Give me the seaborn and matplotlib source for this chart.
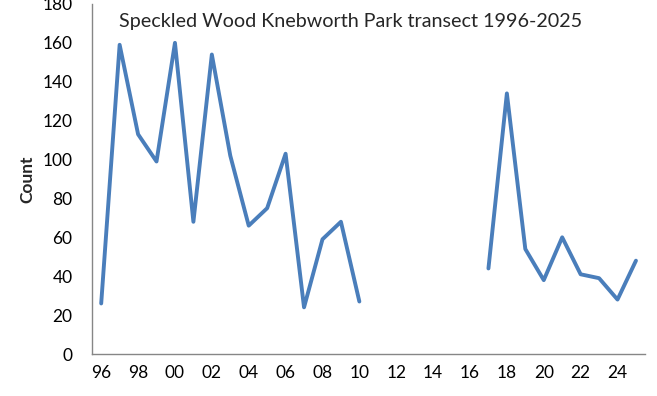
import numpy as np
import pandas as pd
import matplotlib
matplotlib.use("Agg")
import matplotlib.pyplot as plt
import seaborn as sns

# Data (no transect counts 2011-2016)
years = list(range(1996, 2026))
counts = [26, 159, 113, 99, 160, 68, 154, 102, 66, 75, 103, 24, 59, 68, 27,
          np.nan, np.nan, np.nan, np.nan, np.nan, np.nan,
          44, 134, 54, 38, 60, 41, 39, 28, 48]
tick_years = list(range(1996, 2025, 2))
tick_labels = [f"{y % 100:02d}" for y in tick_years]
title = "Speckled Wood Knebworth Park transect 1996-2025"

df = pd.DataFrame({"year": years, "count": counts})
# split into separate segments at the gap so the line breaks
df["segment"] = df["count"].isna().cumsum()
df = df.dropna()

sns.set_style("white")
plt.rcParams["font.family"] = ["Lato", "DejaVu Sans"]

fig = plt.figure(figsize=(6.57, 3.96), dpi=100)
ax = fig.add_axes([0.140, 0.106, 0.842, 0.884])

sns.lineplot(data=df, x="year", y="count", units="segment", estimator=None,
             color="#4A7EBB", linewidth=2.8, ax=ax, legend=False)

ax.set_xlim(1995.5, 2025.5)
ax.set_ylim(0, 180)
ax.set_yticks(range(0, 181, 20))
ax.set_xticks(tick_years)
ax.set_xticklabels(tick_labels)
ax.tick_params(axis="both", length=0, labelsize=12.5, pad=8, colors="black")
ax.tick_params(axis="y", pad=14)

for side in ["top", "right"]:
    ax.spines[side].set_visible(False)
for side in ["left", "bottom"]:
    ax.spines[side].set_color("#868686")
    ax.spines[side].set_linewidth(1.0)

ax.set_xlabel("")
ax.set_ylabel("Count", fontsize=12.5, fontweight="bold", labelpad=5)
ax.text(0.467, 0.975, title, transform=ax.transAxes, ha="center", va="top",
        fontsize=14.2)

fig.savefig("out.png", dpi=100)
